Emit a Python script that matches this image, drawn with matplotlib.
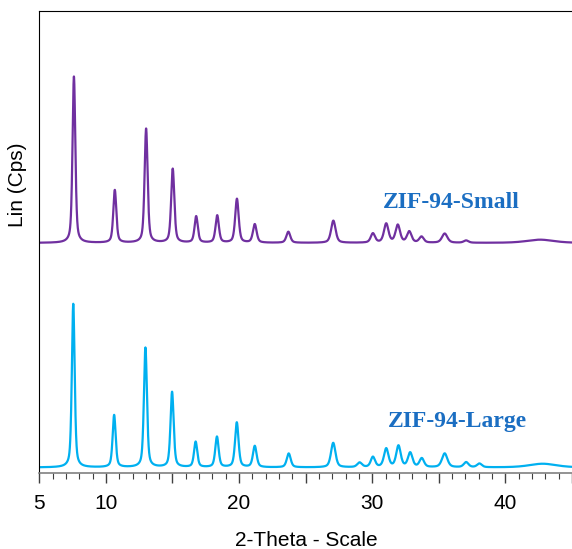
import numpy as np
import matplotlib
matplotlib.use('Agg')
import matplotlib.pyplot as plt
from matplotlib.ticker import MultipleLocator, FuncFormatter

# ---------------------------------------------
# Peak lists
# (position in 2-theta, height above baseline, FWHM)
# ---------------------------------------------
large_pos = [7.55, 10.62, 12.97, 14.97, 16.74, 18.34, 19.83, 21.18, 23.73, 27.07,
             29.05, 30.05, 31.05, 31.97, 32.85, 33.72, 35.44, 37.05, 38.05, 42.8]
large_h = [354, 113, 259, 163, 55, 66, 97, 46, 30, 53,
           10, 22, 40, 46, 31, 19, 30, 11, 8, 8]
large_w = [0.25, 0.27, 0.27, 0.28, 0.29, 0.30, 0.31, 0.33, 0.35, 0.40,
           0.42, 0.38, 0.40, 0.40, 0.40, 0.40, 0.48, 0.42, 0.42, 2.4]
large_base = 12

small_pos = [7.60, 10.67, 13.02, 15.02, 16.78, 18.36, 19.84, 21.18, 23.70, 27.08,
             30.05, 31.05, 31.92, 32.78, 33.70, 35.44, 37.05, 42.6]
small_h = [360, 114, 247, 160, 57, 59, 95, 40, 24, 48,
           20, 41, 38, 24, 13, 20, 5, 7]
small_w = [0.25, 0.27, 0.27, 0.28, 0.29, 0.30, 0.31, 0.33, 0.35, 0.40,
           0.38, 0.40, 0.40, 0.40, 0.40, 0.48, 0.42, 2.4]
small_base = 498

tick_labels = {5: '5', 10: '10', 20: '20', 30: '30', 40: '40'}


def pattern(tt, pos, h, w, base, eta=0.5):
    y = np.full_like(tt, float(base))
    for p, a, f in zip(pos, h, w):
        g = np.exp(-4 * np.log(2) * ((tt - p) / f) ** 2)
        l = 1.0 / (1 + 4 * ((tt - p) / f) ** 2)
        y += a * (eta * l + (1 - eta) * g)
    return y


tt = np.linspace(5, 45, 4001)
y_large = pattern(tt, large_pos, large_h, large_w, large_base)
y_small = pattern(tt, small_pos, small_h, small_w, small_base)

fig = plt.figure(figsize=(5.72, 5.49), dpi=100)
ax = fig.add_axes([39.3 / 572, 1 - 473 / 549, 1 - 39.3 / 572, (473 - 11) / 549])

ax.plot(tt, y_small, color='#7030A0', lw=1.6)
ax.plot(tt, y_large, color='#00B0F0', lw=1.6)

ax.set_xlim(5, 45)
ax.set_ylim(0, 1000)

ax.xaxis.set_major_locator(MultipleLocator(5))
ax.xaxis.set_minor_locator(MultipleLocator(1))
ax.xaxis.set_major_formatter(FuncFormatter(lambda v, p: tick_labels.get(int(round(v)), '')))
ax.tick_params(axis='x', which='major', length=7, width=1.0, color='#404040',
               direction='out', pad=8, labelsize=15)
ax.tick_params(axis='x', which='minor', length=4, width=0.8, color='#404040', direction='out')
ax.set_yticks([])

for lbl in ax.get_xticklabels():
    lbl.set_family('Liberation Sans')

ax.spines['right'].set_visible(False)
ax.spines['left'].set_color('black')
ax.spines['top'].set_color('black')
ax.spines['bottom'].set_color('#808080')
ax.spines['bottom'].set_linewidth(1.2)

ax.set_xlabel('2-Theta - Scale', fontsize=15, family='Liberation Sans')
ax.set_ylabel('Lin (Cps)', fontsize=15, family='Liberation Sans')
ax.xaxis.set_label_coords(0.502, (473 - 531) / 462)
ax.yaxis.set_label_coords(-0.023, (473 - 185) / 462)

ax.text(35.96, 573, 'ZIF-94-Small', ha='center', va='baseline', fontsize=17,
        fontweight='bold', family='Liberation Serif', color='#1B6EC2')
ax.text(36.41, 100, 'ZIF-94-Large', ha='center', va='baseline', fontsize=17,
        fontweight='bold', family='Liberation Serif', color='#1B6EC2')

plt.savefig('out.png', dpi=100)
plt.close()
